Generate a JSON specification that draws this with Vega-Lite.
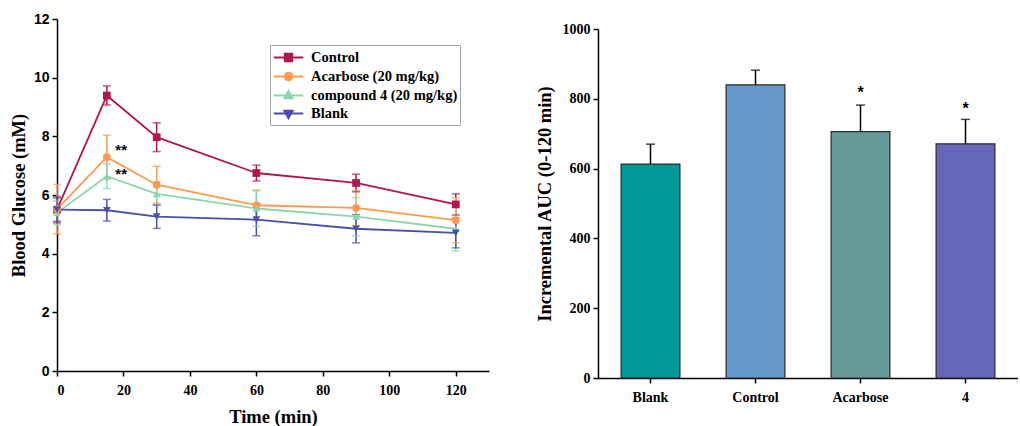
{
  "$schema": "https://vega.github.io/schema/vega-lite/v6.json",
  "background": "white",
  "padding": {"left": 9, "top": 12, "right": 0, "bottom": 0},
  "spacing": 46,
  "resolve": {"scale": {"color": "independent"}, "legend": {"color": "independent"}},
  "config": {
    "view": {"stroke": null},
    "font": "Liberation Serif",
    "axis": {
      "grid": false,
      "domainColor": "black",
      "domainWidth": 1.5,
      "tickColor": "black",
      "tickWidth": 1.5,
      "labelColor": "black",
      "titleColor": "black",
      "labelFont": "Liberation Serif",
      "titleFont": "Liberation Serif",
      "labelFontWeight": "bold",
      "titleFontWeight": "bold",
      "labelFontSize": 14,
      "titleFontSize": 18.5
    }
  },
  "hconcat": [
    {
      "width": 432,
      "height": 352,
      "data": {
        "values": [
          {"t": 0, "s": "Control", "v": 5.50, "lo": 5.10, "hi": 5.90},
          {"t": 15, "s": "Control", "v": 9.39, "lo": 9.07, "hi": 9.72},
          {"t": 30, "s": "Control", "v": 7.97, "lo": 7.48, "hi": 8.46},
          {"t": 60, "s": "Control", "v": 6.75, "lo": 6.48, "hi": 7.02},
          {"t": 90, "s": "Control", "v": 6.41, "lo": 6.11, "hi": 6.71},
          {"t": 120, "s": "Control", "v": 5.68, "lo": 5.32, "hi": 6.04},
          {"t": 0, "s": "Acarbose (20 mg/kg)", "v": 5.52, "lo": 4.68, "hi": 6.36},
          {"t": 15, "s": "Acarbose (20 mg/kg)", "v": 7.29, "lo": 6.54, "hi": 8.04},
          {"t": 30, "s": "Acarbose (20 mg/kg)", "v": 6.35, "lo": 5.72, "hi": 6.98},
          {"t": 60, "s": "Acarbose (20 mg/kg)", "v": 5.65, "lo": 5.13, "hi": 6.17},
          {"t": 90, "s": "Acarbose (20 mg/kg)", "v": 5.56, "lo": 4.96, "hi": 6.16},
          {"t": 120, "s": "Acarbose (20 mg/kg)", "v": 5.14, "lo": 4.37, "hi": 5.91},
          {"t": 0, "s": "compound 4 (20 mg/kg)", "v": 5.39, "lo": 4.99, "hi": 5.79},
          {"t": 15, "s": "compound 4 (20 mg/kg)", "v": 6.64, "lo": 6.22, "hi": 7.06},
          {"t": 30, "s": "compound 4 (20 mg/kg)", "v": 6.04, "lo": 5.64, "hi": 6.44},
          {"t": 60, "s": "compound 4 (20 mg/kg)", "v": 5.54, "lo": 4.94, "hi": 6.14},
          {"t": 90, "s": "compound 4 (20 mg/kg)", "v": 5.26, "lo": 4.61, "hi": 5.91},
          {"t": 120, "s": "compound 4 (20 mg/kg)", "v": 4.85, "lo": 4.10, "hi": 5.60},
          {"t": 0, "s": "Blank", "v": 5.50, "lo": 5.05, "hi": 5.95},
          {"t": 15, "s": "Blank", "v": 5.48, "lo": 5.11, "hi": 5.85},
          {"t": 30, "s": "Blank", "v": 5.26, "lo": 4.86, "hi": 5.66},
          {"t": 60, "s": "Blank", "v": 5.16, "lo": 4.61, "hi": 5.71},
          {"t": 90, "s": "Blank", "v": 4.85, "lo": 4.37, "hi": 5.33},
          {"t": 120, "s": "Blank", "v": 4.71, "lo": 4.20, "hi": 5.22}
        ]
      },
      "layer": [
        {
          "mark": {"type": "rule", "strokeWidth": 1.5},
          "encoding": {
            "x": {"field": "t", "type": "quantitative"},
            "y": {"field": "lo", "type": "quantitative"},
            "y2": {"field": "hi"},
            "color": {"field": "s", "type": "nominal", "legend": null}
          }
        },
        {
          "mark": {"type": "tick", "orient": "horizontal", "size": 8, "thickness": 1.5},
          "encoding": {
            "x": {"field": "t", "type": "quantitative"},
            "y": {"field": "lo", "type": "quantitative"},
            "color": {"field": "s", "type": "nominal", "legend": null}
          }
        },
        {
          "mark": {"type": "tick", "orient": "horizontal", "size": 8, "thickness": 1.5},
          "encoding": {
            "x": {"field": "t", "type": "quantitative"},
            "y": {"field": "hi", "type": "quantitative"},
            "color": {"field": "s", "type": "nominal", "legend": null}
          }
        },
        {
          "mark": {"type": "line", "strokeWidth": 1.8},
          "encoding": {
            "x": {
              "field": "t", "type": "quantitative",
              "scale": {"domain": [0, 130], "nice": false, "zero": false},
              "axis": {
                "title": "Time (min)",
                "values": [0, 10, 20, 30, 40, 50, 60, 70, 80, 90, 100, 110, 120, 130],
                "labelExpr": "datum.value % 20 === 0 && datum.value <= 120 ? datum.label : ''",
                "tickSize": {"condition": {"test": "datum.value % 20 === 0", "value": 5}, "value": 3},
                "labelPadding": 7,
                "titlePadding": 10
              }
            },
            "y": {
              "field": "v", "type": "quantitative",
              "scale": {"domain": [0, 12], "nice": false},
              "axis": {
                "title": "Blood Glucose (mM)",
                "values": [0, 1, 2, 3, 4, 5, 6, 7, 8, 9, 10, 11, 12],
                "labelExpr": "datum.value % 2 === 0 ? datum.label : ''",
                "labelFont": "Liberation Sans",
                "tickSize": {"condition": {"test": "datum.value % 2 === 0", "value": 5}, "value": 3},
                "labelPadding": 3,
                "titlePadding": 5
              }
            },
            "color": {
              "field": "s", "type": "nominal",
              "scale": {
                "domain": ["Control", "Acarbose (20 mg/kg)", "compound 4 (20 mg/kg)", "Blank"],
                "range": ["#B0174D", "#FF9A50", "#8CD5AC", "#4A50AA"]
              },
              "legend": null
            }
          }
        },
        {
          "mark": {"type": "point", "filled": true, "opacity": 1, "size": 60},
          "encoding": {
            "x": {"field": "t", "type": "quantitative"},
            "y": {"field": "v", "type": "quantitative"},
            "color": {"field": "s", "type": "nominal", "legend": null},
            "shape": {
              "field": "s", "type": "nominal",
              "scale": {
                "domain": ["Control", "Acarbose (20 mg/kg)", "compound 4 (20 mg/kg)", "Blank"],
                "range": ["square", "circle", "triangle-up", "triangle-down"]
              },
              "legend": null
            }
          }
        },
        {
          "transform": [{"filter": "false"}],
          "mark": {"type": "point", "filled": true, "opacity": 1, "strokeWidth": 2},
          "encoding": {
            "x": {"field": "t", "type": "quantitative"},
            "y": {"field": "v", "type": "quantitative"},
            "color": {
              "field": "s", "type": "nominal",
              "legend": {
                "orient": "none", "legendX": 213, "legendY": 26, "title": null,
                "strokeColor": "#a8a8a8", "padding": 2, "symbolSize": 340, "symbolOffset": 6,
                "symbolStrokeWidth": 2, "labelFont": "Liberation Serif",
                "labelFontWeight": "bold", "labelFontSize": 14.5, "labelColor": "black",
                "labelOffset": 12, "rowPadding": 0
              }
            },
            "stroke": {
              "field": "s", "type": "nominal",
              "scale": {
                "domain": ["Control", "Acarbose (20 mg/kg)", "compound 4 (20 mg/kg)", "Blank"],
                "range": ["#B0174D", "#FF9A50", "#8CD5AC", "#4A50AA"]
              },
              "legend": {
                "orient": "none", "legendX": 213, "legendY": 26, "title": null,
                "strokeColor": "#a8a8a8", "padding": 2, "symbolSize": 340, "symbolOffset": 6,
                "symbolStrokeWidth": 2, "labelFont": "Liberation Serif",
                "labelFontWeight": "bold", "labelFontSize": 14.5, "labelColor": "black",
                "labelOffset": 12, "rowPadding": 0
              }
            },
            "shape": {
              "field": "s", "type": "nominal",
              "scale": {
                "domain": ["Control", "Acarbose (20 mg/kg)", "compound 4 (20 mg/kg)", "Blank"],
                "range": [
                  "M-1.6,0H1.6M-0.4,-0.4H0.4V0.4H-0.4Z",
                  "M-1.6,0H1.6M0.42,0A0.42,0.42,0,1,1,-0.42,0A0.42,0.42,0,1,1,0.42,0Z",
                  "M-1.6,0H1.6M0,-0.5L0.45,0.3H-0.45Z",
                  "M-1.6,0H1.6M0,0.5L0.45,-0.3H-0.45Z"
                ]
              },
              "legend": {
                "orient": "none", "legendX": 213, "legendY": 26, "title": null,
                "strokeColor": "#a8a8a8", "padding": 2, "symbolSize": 340, "symbolOffset": 6,
                "symbolStrokeWidth": 2, "labelFont": "Liberation Serif",
                "labelFontWeight": "bold", "labelFontSize": 14.5, "labelColor": "black",
                "labelOffset": 12, "rowPadding": 0
              }
            }
          }
        },
        {
          "data": {"values": [{"t": 19.3, "v": 7.62, "label": "**"}, {"t": 19.3, "v": 6.83, "label": "**"}]},
          "mark": {"type": "text", "fontSize": 15, "fontWeight": "bold", "font": "Liberation Sans", "baseline": "middle", "dy": 3},
          "encoding": {
            "x": {"field": "t", "type": "quantitative"},
            "y": {"field": "v", "type": "quantitative"},
            "text": {"field": "label"}
          }
        }
      ],
      "resolve": {
        "scale": {"shape": "independent"},
        "legend": {"shape": "independent", "color": "independent", "stroke": "independent"}
      }
    },
    {
      "spacing": 0,
      "vconcat": [
        {
          "width": 420,
          "height": 3,
          "data": {"values": []},
          "mark": {"type": "point"},
          "encoding": {}
        },
        {
          "width": 420,
          "height": 349,
          "data": {
            "values": [
              {"g": "Blank", "v": 613, "hi": 670},
              {"g": "Control", "v": 840, "hi": 882},
              {"g": "Acarbose", "v": 706, "hi": 782, "star": "*", "sy": 818},
              {"g": "4", "v": 671, "hi": 741, "star": "*", "sy": 772}
            ]
          },
          "layer": [
            {
              "mark": {"type": "bar", "stroke": "#2a2a2a", "strokeWidth": 1.2},
              "encoding": {
                "x": {
                  "field": "g", "type": "nominal", "sort": null,
                  "scale": {"paddingInner": 0.44, "paddingOuter": 0.22},
                  "axis": {"title": null, "labelAngle": 0, "tickSize": 5, "labelPadding": 7}
                },
                "y": {
                  "field": "v", "type": "quantitative",
                  "scale": {"domain": [0, 1000], "nice": false},
                  "axis": {
                    "title": "Incremental AUC (0-120 min)",
                    "format": "d",
                    "values": [0, 100, 200, 300, 400, 500, 600, 700, 800, 900, 1000],
                    "labelExpr": "datum.value % 200 === 0 ? datum.label : ''",
                    "tickSize": {"condition": {"test": "datum.value % 200 === 0", "value": 5}, "value": 3},
                    "labelPadding": 3,
                    "titlePadding": 8
                  }
                },
                "color": {
                  "field": "g", "type": "nominal",
                  "scale": {"domain": ["Blank", "Control", "Acarbose", "4"], "range": ["#009999", "#6699CC", "#669999", "#6666BB"]},
                  "legend": null
                }
              }
            },
            {
              "mark": {"type": "rule", "strokeWidth": 1.5, "color": "black"},
              "encoding": {
                "x": {"field": "g", "type": "nominal", "sort": null},
                "y": {"field": "v", "type": "quantitative"},
                "y2": {"field": "hi"}
              }
            },
            {
              "mark": {"type": "tick", "orient": "horizontal", "size": 9, "thickness": 1.5, "color": "black"},
              "encoding": {
                "x": {"field": "g", "type": "nominal", "sort": null},
                "y": {"field": "hi", "type": "quantitative"}
              }
            },
            {
              "mark": {"type": "text", "fontSize": 16, "fontWeight": "bold", "font": "Liberation Sans", "baseline": "middle", "color": "black"},
              "encoding": {
                "x": {"field": "g", "type": "nominal", "sort": null},
                "y": {"field": "sy", "type": "quantitative"},
                "text": {"field": "star"}
              }
            }
          ]
        }
      ]
    }
  ]
}
